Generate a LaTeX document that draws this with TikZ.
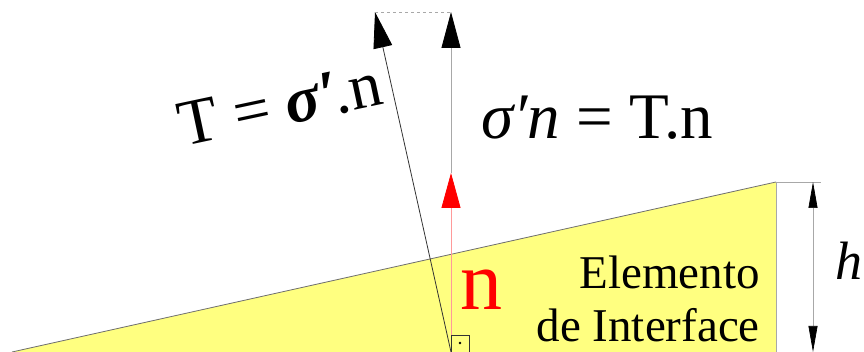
\documentclass[tikz,border=0pt]{standalone}
\usepackage{fontspec}
\setmainfont{Liberation Serif}
\usetikzlibrary{arrows.meta}
\definecolor{fillyellow}{HTML}{FFFF80}
\definecolor{edgegray}{HTML}{6E6E6E}
\definecolor{linegray}{HTML}{A8A8A8}
\definecolor{normalred}{HTML}{FF0000}
\definecolor{softred}{HTML}{FF9A9A}
\tikzset{vecblack/.style={-{Triangle[length=36pt,width=19pt,color=black]},line width=.8pt},
vecred/.style={-{Triangle[length=35pt,width=19pt,color=normalred]},line width=.8pt,softred},
dim/.style={{Triangle[length=26pt,width=9pt,color=black]}-{Triangle[length=26pt,width=9pt,color=black]},line width=.7pt,linegray},
big/.style={font=\fontsize{65}{72}\selectfont,inner sep=0pt}}

\begin{document}
\begin{tikzpicture}[x=1pt,y=1pt]
\useasboundingbox (0,0) rectangle (864,352);
\coordinate (slopeend) at (12,0);
\coordinate (corner) at (776,170);
\coordinate (cornerlow) at (776,0);
\coordinate (foot) at (451,0);
\coordinate (redtip) at (451,179);
\coordinate (ntip) at (451,340);
\coordinate (ttip) at (375,340);
\coordinate (dimtop) at (813,170);
\coordinate (dimlow) at (813,0);
\coordinate (extend) at (821,170);
% interface element
\fill[fillyellow] (slopeend) -- (corner) -- (cornerlow) -- cycle;
\draw[edgegray,line width=.8pt] (slopeend) -- (corner);
\draw[linegray,line width=.6pt] (corner) -- (cornerlow);
% normal and traction
\draw[linegray,line width=.8pt,-{Triangle[length=36pt,width=19pt,color=black]}] (redtip) -- (ntip);
\draw[vecred] (foot) -- (redtip);
\draw[vecblack,black!80] (foot) -- (ttip);
\draw[linegray,dashed,line width=.8pt] (ttip) -- (ntip);
\draw[black!80,line width=.6pt] (foot) rectangle ++(18,17);
\fill (foot) ++(9,9) circle (1.4);
% height
\draw[linegray,line width=.6pt] (corner) -- (extend);
\draw[dim] (dimtop) -- (dimlow);
% labels
\node[big,rotate=12] (tlabel) at (280,247) {T = \textbf{\textit{σ}′}\kern-6pt.n};
\node[big] (snlabel) at (597,234) {\textit{σ′n} = T.n};
\node[font=\fontsize{84}{90}\selectfont,text=normalred,inner sep=0pt,anchor=base] (nlabel) at (481,42) {n};
\node[font=\fontsize{54}{60}\selectfont,inner sep=0pt,anchor=base] (hlabel) at (849,72) {\textit{h}};
\node[font=\fontsize{47}{53}\selectfont,inner sep=0pt,anchor=north east,align=right] (elabel) at (760,96) {Elemento\\de Interface};
\end{tikzpicture}
\end{document}
